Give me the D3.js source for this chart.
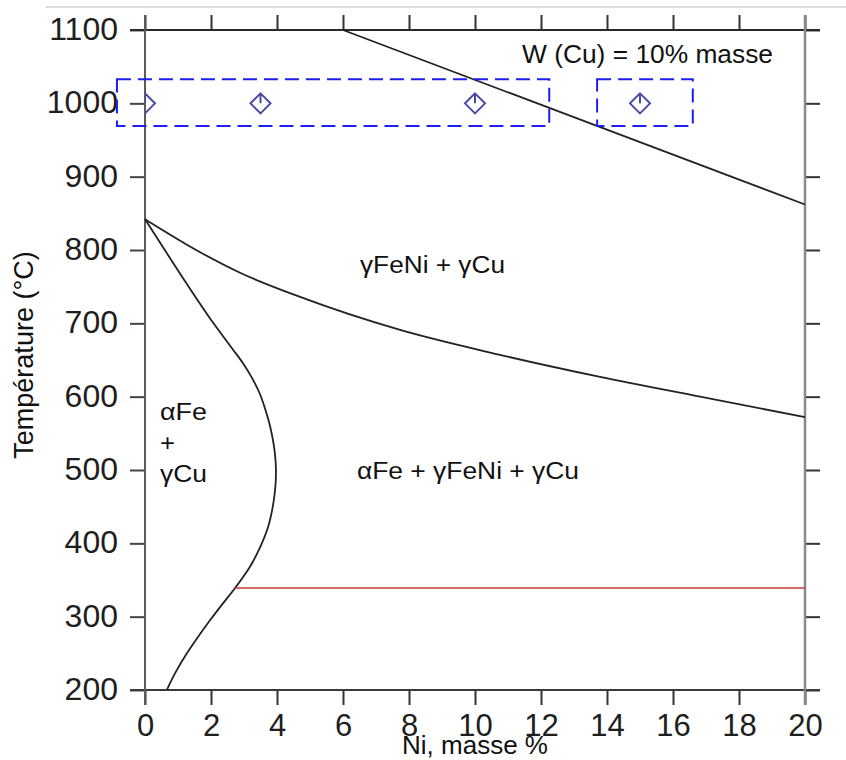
<!DOCTYPE html>
<html><head><meta charset="utf-8">
<script src="https://cdn.jsdelivr.net/npm/d3@7/dist/d3.min.js"></script>
<style>
body{margin:0;background:#fff}
svg{display:block}
text{font-family:"Liberation Sans",Arial,Helvetica,sans-serif}
</style>
</head><body>
<svg id="c" width="846" height="760"></svg>
<script>
// ---- data ----
const xTicks = [0, 2, 4, 6, 8, 10, 12, 14, 16, 18, 20];
const yTicks = [200, 300, 400, 500, 600, 700, 800, 900, 1000, 1100];

// upper boundary (straight line)
const topNi = [6, 20];
const topT  = [1100, 862];

// gamma FeNi solvus
const gammaNi = [0, 1.67, 2.88, 4.70, 7.73, 10.76, 13.79, 16.82, 20];
const gammaT  = [842, 797, 769, 736, 691, 657, 627, 600, 572];

// alpha Fe boundary (ordered along the curve, T decreasing)
const alphaNi = [0, 0.6, 1.25, 2.0, 2.67, 2.98, 3.25, 3.47, 3.63, 3.76, 3.86, 3.93, 3.97, 3.94, 3.86, 3.72, 3.5, 3.18, 2.73, 2.31, 1.97, 1.60, 1.27, 0.95, 0.67];
const alphaT  = [842, 800, 755, 705, 664, 645, 625, 605, 585, 565, 545, 525, 498, 472, 447, 421, 396, 368, 339, 315, 295, 272, 250, 226, 201];

// eutectoid horizontal (red)
const redNi = [2.73, 20];
const redT  = [339, 339];

// experimental points
const ptNi = [0, 3.5, 10, 15];
const ptT  = [1000, 1000, 1000, 1000];

// highlight boxes (Ni range, T range)
const boxNi0 = [-0.85, 13.7];
const boxNi1 = [12.25, 16.6];
const boxT0  = [969, 969];
const boxT1  = [1033, 1033];

const xTitle = "Ni, masse %";
const yTitle = "Température (°C)";
const note   = "W (Cu) = 10% masse";
const phaseTop = "γFeNi + γCu";
const phaseMid = "αFe + γFeNi + γCu";
const phaseLeft = ["αFe", "+", "γCu"];

// ---- chart ----
const svg = d3.select("#c");
const L = 145, R = 805, T = 30, B = 690;
const x = d3.scaleLinear().domain([0, 20]).range([L, R]);
const y = d3.scaleLinear().domain([200, 1100]).range([B, T]);

// faint scan line at the very top
svg.append("line").attr("x1", 46).attr("x2", 846).attr("y1", 7).attr("y2", 7)
  .attr("stroke", "#cfcfcf").attr("stroke-width", 1.5);

svg.append("clipPath").attr("id", "plot")
  .append("rect").attr("x", L).attr("y", T).attr("width", R - L).attr("height", B - T);

function styleAxis(g, col, fs) {
  g.select(".domain").remove();
  g.selectAll(".tick line").attr("stroke", col).attr("stroke-width", 2);
  g.selectAll(".tick text").attr("fill", "#1e1e1e").style("font-size", fs);
}

const gl = svg.append("g").attr("transform", `translate(${L},0)`)
  .call(d3.axisLeft(y).tickValues(yTicks).tickSize(15).tickPadding(12).tickFormat(d3.format("d")));
styleAxis(gl, "#444", "32px");
gl.selectAll(".tick text").attr("dy", "0.3em");

const gb = svg.append("g").attr("transform", `translate(0,${B})`)
  .call(d3.axisBottom(x).tickValues(xTicks).tickSize(15).tickPadding(9).tickFormat(d3.format("d")));
styleAxis(gb, "#333", "31px");

const gt = svg.append("g").attr("transform", `translate(0,${T})`)
  .call(d3.axisTop(x).tickValues(xTicks).tickSize(15).tickFormat(""));
styleAxis(gt, "#333", "10px");

const gr = svg.append("g").attr("transform", `translate(${R},0)`)
  .call(d3.axisRight(y).tickValues(yTicks).tickSize(15).tickFormat(""));
styleAxis(gr, "#333", "10px");

// frame lines (extending past the corners)
const ext = 15;
svg.append("line").attr("x1", L - ext).attr("x2", R + ext).attr("y1", T).attr("y2", T)
  .attr("stroke", "#2a2a2a").attr("stroke-width", 2);
svg.append("line").attr("x1", L - ext).attr("x2", R + ext).attr("y1", B).attr("y2", B)
  .attr("stroke", "#3a3a3a").attr("stroke-width", 2);
svg.append("line").attr("x1", L).attr("x2", L).attr("y1", T - ext).attr("y2", B + ext)
  .attr("stroke", "#5a5a5a").attr("stroke-width", 2);
svg.append("line").attr("x1", R).attr("x2", R).attr("y1", T - ext).attr("y2", B + ext)
  .attr("stroke", "#8a8a8a").attr("stroke-width", 2.5);

// curves
const zip = (a, b) => a.map((v, i) => [v, b[i]]);
const lin = d3.line().x(d => x(d[0])).y(d => y(d[1]));
const smooth = d3.line().x(d => x(d[0])).y(d => y(d[1])).curve(d3.curveMonotoneX);
const smoothY = d3.line().x(d => x(d[0])).y(d => y(d[1])).curve(d3.curveMonotoneY);

svg.append("path").attr("d", lin(zip(topNi, topT)))
  .attr("fill", "none").attr("stroke", "#222").attr("stroke-width", 1.8);
svg.append("path").attr("d", smooth(zip(gammaNi, gammaT)))
  .attr("fill", "none").attr("stroke", "#222").attr("stroke-width", 1.8);
svg.append("path").attr("d", smoothY(zip(alphaNi, alphaT)))
  .attr("fill", "none").attr("stroke", "#222").attr("stroke-width", 1.8);
svg.append("path").attr("d", lin(zip(redNi, redT)))
  .attr("fill", "none").attr("stroke", "#c83a3a").attr("stroke-width", 1.6);

// highlight boxes
boxNi0.forEach((n0, i) => {
  svg.append("rect")
    .attr("x", x(n0)).attr("y", y(boxT1[i]))
    .attr("width", x(boxNi1[i]) - x(n0)).attr("height", y(boxT0[i]) - y(boxT1[i]))
    .attr("fill", "none").attr("stroke", "#1e1ef0").attr("stroke-width", 2)
    .attr("stroke-dasharray", "14,7");
});

// markers
const mk = svg.append("g").attr("clip-path", "url(#plot)");
ptNi.forEach((n, i) => {
  mk.append("path")
    .attr("transform", `translate(${x(n)},${y(ptT[i])})`)
    .attr("d", "M0,-10L10,0L0,10L-10,0Z M0,-10L0,0")
    .attr("fill", "none").attr("stroke", "#4a4aa6").attr("stroke-width", 2);
});

// texts
svg.append("text").attr("x", x(10)).attr("y", 754).attr("text-anchor", "middle")
  .style("font-size", "26px").attr("fill", "#111").text(xTitle);
svg.append("text").attr("transform", `translate(33,355) rotate(-90)`)
  .attr("text-anchor", "middle").style("font-size", "27px").attr("fill", "#111").text(yTitle);
svg.append("text").attr("x", 522).attr("y", 63).style("font-size", "25px")
  .attr("textLength", 251).attr("lengthAdjust", "spacingAndGlyphs").attr("fill", "#111").text(note);

svg.append("text").attr("x", 360).attr("y", 273).style("font-size", "23px")
  .attr("textLength", 145).attr("lengthAdjust", "spacingAndGlyphs").attr("fill", "#111").text(phaseTop);
svg.append("text").attr("x", 357).attr("y", 479).style("font-size", "23px")
  .attr("textLength", 222).attr("lengthAdjust", "spacingAndGlyphs").attr("fill", "#111").text(phaseMid);

const leftBase = [420, 451, 482];
const leftLen = [47, 15, 47];
phaseLeft.forEach((s, i) => {
  svg.append("text").attr("x", 160).attr("y", leftBase[i]).style("font-size", "23px")
    .attr("textLength", leftLen[i]).attr("lengthAdjust", "spacingAndGlyphs")
    .attr("fill", "#111").text(s);
});
</script>
</body></html>
